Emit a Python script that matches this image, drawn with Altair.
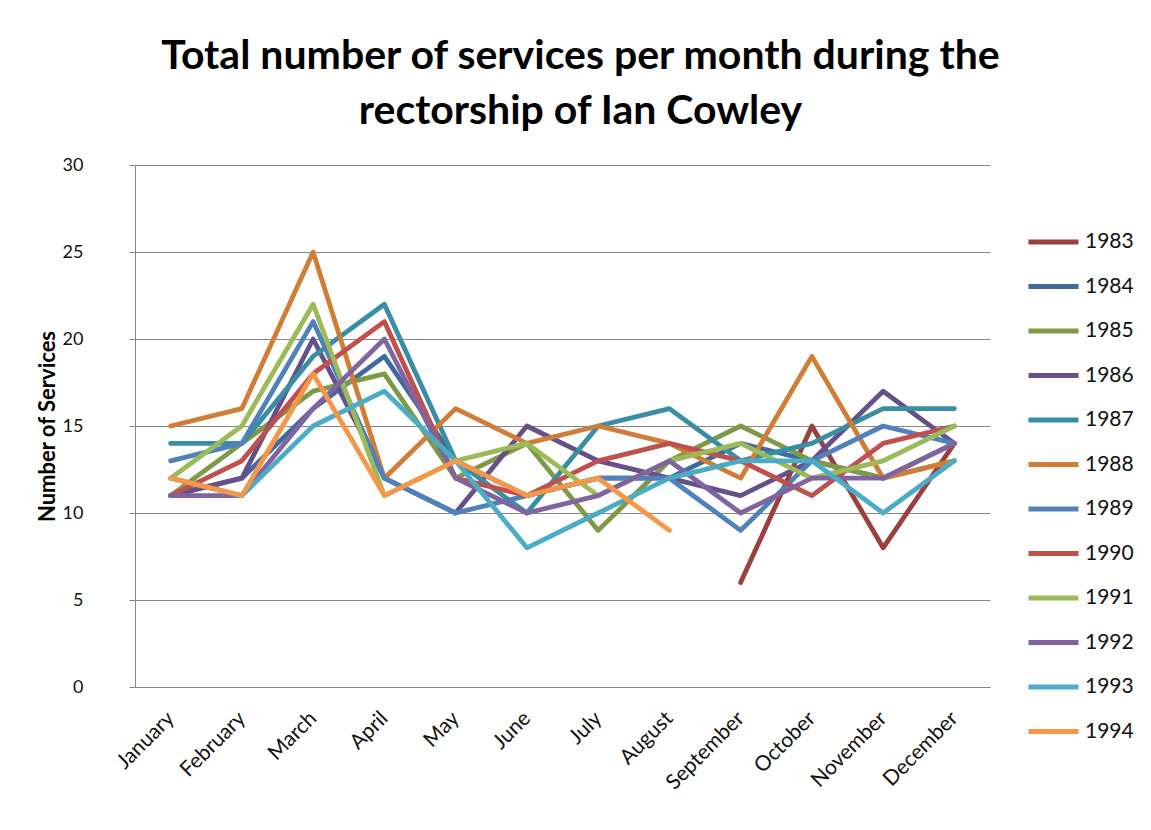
import altair as alt
import pandas as pd

months = ["January", "February", "March", "April", "May", "June", "July",
          "August", "September", "October", "November", "December"]
years = ["1983", "1984", "1985", "1986", "1987", "1988", "1989", "1990",
         "1991", "1992", "1993", "1994"]
colors = ["#9D3F3C", "#3F6A9E", "#7E9A47", "#66508A", "#378EA5", "#D27D35",
          "#4F81BD", "#C0504D", "#9BBB59", "#8064A2", "#4BACC6", "#F79646"]

s1983 = [None, None, None, None, None, None, None, None, 6, 15, 8, 14]
s1984 = [11, 12, 16, 19, 13, 11, 12, 12, 14, 13, 12, 14]
s1985 = [11, 14, 17, 18, 12, 14, 9, 13, 15, 13, 12, 13]
s1986 = [11, 12, 20, 12, 10, 15, 13, 12, 11, 13, 17, 14]
s1987 = [14, 14, 19, 22, 13, 10, 15, 16, 13, 14, 16, 16]
s1988 = [15, 16, 25, 12, 16, 14, 15, 14, 12, 19, 12, 13]
s1989 = [13, 14, 21, 12, 10, 11, 12, 12, 9, 13, 15, 14]
s1990 = [11, 13, 18, 21, 12, 11, 13, 14, 13, 11, 14, 15]
s1991 = [12, 15, 22, 11, 13, 14, 11, 13, 14, 12, 13, 15]
s1992 = [11, 11, 16, 20, 12, 10, 11, 13, 10, 12, 12, 14]
s1993 = [12, 11, 15, 17, 13, 8, 10, 12, 13, 13, 10, 13]
s1994 = [12, 11, 18, 11, 13, 11, 12, 9, None, None, None, None]

series = [s1983, s1984, s1985, s1986, s1987, s1988, s1989, s1990,
          s1991, s1992, s1993, s1994]

rows = []
for yr, vals in zip(years, series):
    for m, v in zip(months, vals):
        if v is not None:
            rows.append({"Month": m, "Year": yr, "Services": v})
df = pd.DataFrame(rows)

FONT = "Lato"

chart = alt.Chart(df).mark_line(strokeWidth=4.8, strokeJoin="round", strokeCap="round").encode(
    x=alt.X("Month:N", sort=months, scale=alt.Scale(type="point", padding=0.5),
            axis=alt.Axis(title=None, labelAngle=315, labelAlign="right", labelBaseline="middle",
                          labelPadding=28, ticks=False, labelFontSize=21, labelColor="#111",
                          labelFont=FONT, domainColor="#868686", grid=False)),
    y=alt.Y("Services:Q", scale=alt.Scale(domain=[0, 30]),
            axis=alt.Axis(title="Number of Services", values=[0, 5, 10, 15, 20, 25, 30],
                          titleFont=FONT, titleFontSize=22, titleFontWeight="bold", titleColor="#000",
                          titleX=-88, titleBaseline="middle",
                          labelFont=FONT, labelFontSize=18, labelColor="#111", labelPadding=46,
                          tickSize=6, tickColor="#868686", domainColor="#868686",
                          gridColor="#868686", gridWidth=1)),
    color=alt.Color("Year:N", scale=alt.Scale(domain=years, range=colors),
                    legend=alt.Legend(title=None, orient="none", legendX=891, legendY=67,
                                      symbolType="stroke", symbolSize=2500, symbolStrokeWidth=4.8,
                                      labelFont=FONT, labelFontSize=21, labelColor="#111",
                                      clipHeight=20, rowPadding=23.5, labelOffset=4, padding=0)),
    order=alt.Order("Year:N"),
).properties(
    width=855,
    height=522,
    background="white",
    title=alt.TitleParams(
        text=["Total number of services per month during the", "rectorship of Ian Cowley"],
        font=FONT, fontSize=41, fontWeight="bold", color="#000", lineHeight=55,
        anchor="middle", dx=18, offset=23),
    autosize=alt.AutoSizeParams(type="none"),
    padding={"left": 127, "top": 157, "right": 153, "bottom": 135},
).configure_view(stroke=None)

chart.save("out.html", embed_options={"renderer": "svg", "actions": False})
